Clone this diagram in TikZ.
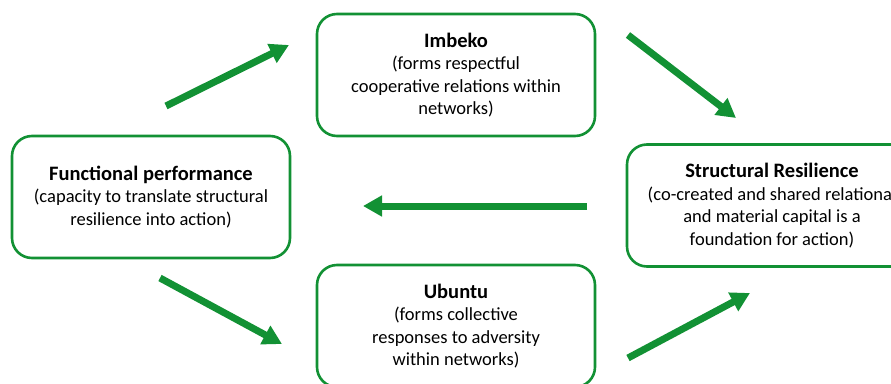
\documentclass[tikz,border=0pt]{standalone}
\usepackage{fontspec}
\setmainfont{Carlito}
\usepackage{tikz}
\usetikzlibrary{arrows.meta}
\definecolor{leaf}{RGB}{18,145,52}

\begin{document}
\begin{tikzpicture}[x=1pt, y=-1pt]
\tikzstyle{box}=[draw=leaf, line width=2.6pt, rounded corners=20pt, fill=white,
                 minimum width=278pt, minimum height=122pt, align=center,
                 font=\fontsize{18.5}{22.5}\selectfont]
\tikzstyle{flow}=[draw=leaf, line width=7pt, -{Triangle[length=19pt,width=20pt]}]
\useasboundingbox (0,0) rectangle (891,383);
\node[box] (imbeko) at (456,75) {\textbf{\fontsize{20.5}{22.5}\selectfont Imbeko}\\(forms  respectful\\cooperative relations within\\networks)};
\node[box] (func) at (151,197) {\textbf{\fontsize{20.5}{22.5}\selectfont Functional performance}\\(capacity to translate structural\\resilience into action)};
\node[box, minimum width=290pt] (struct) at (772,205.5) {\textbf{\fontsize{20.5}{22.5}\selectfont Structural Resilience}\\(co-created and shared relational\\and material capital is a\\foundation for action)};
\node[box] (ubuntu) at (456,326) {\textbf{\fontsize{20.5}{22.5}\selectfont Ubuntu}\\(forms collective\\responses to adversity\\within networks)};
% arrow ends
\coordinate (fi0) at (166,106); \coordinate (fi1) at (289,45);
\coordinate (is0) at (628,35);  \coordinate (is1) at (736,118);
\coordinate (sf0) at (587,206); \coordinate (sf1) at (363,206);
\coordinate (fu0) at (160,278); \coordinate (fu1) at (282,344);
\coordinate (us0) at (628,358); \coordinate (us1) at (750,293);
\foreach \i/\j in {fi0/fi1,is0/is1,sf0/sf1,fu0/fu1,us0/us1}{\draw[flow] (\i) -- (\j);}
\end{tikzpicture}
\end{document}
